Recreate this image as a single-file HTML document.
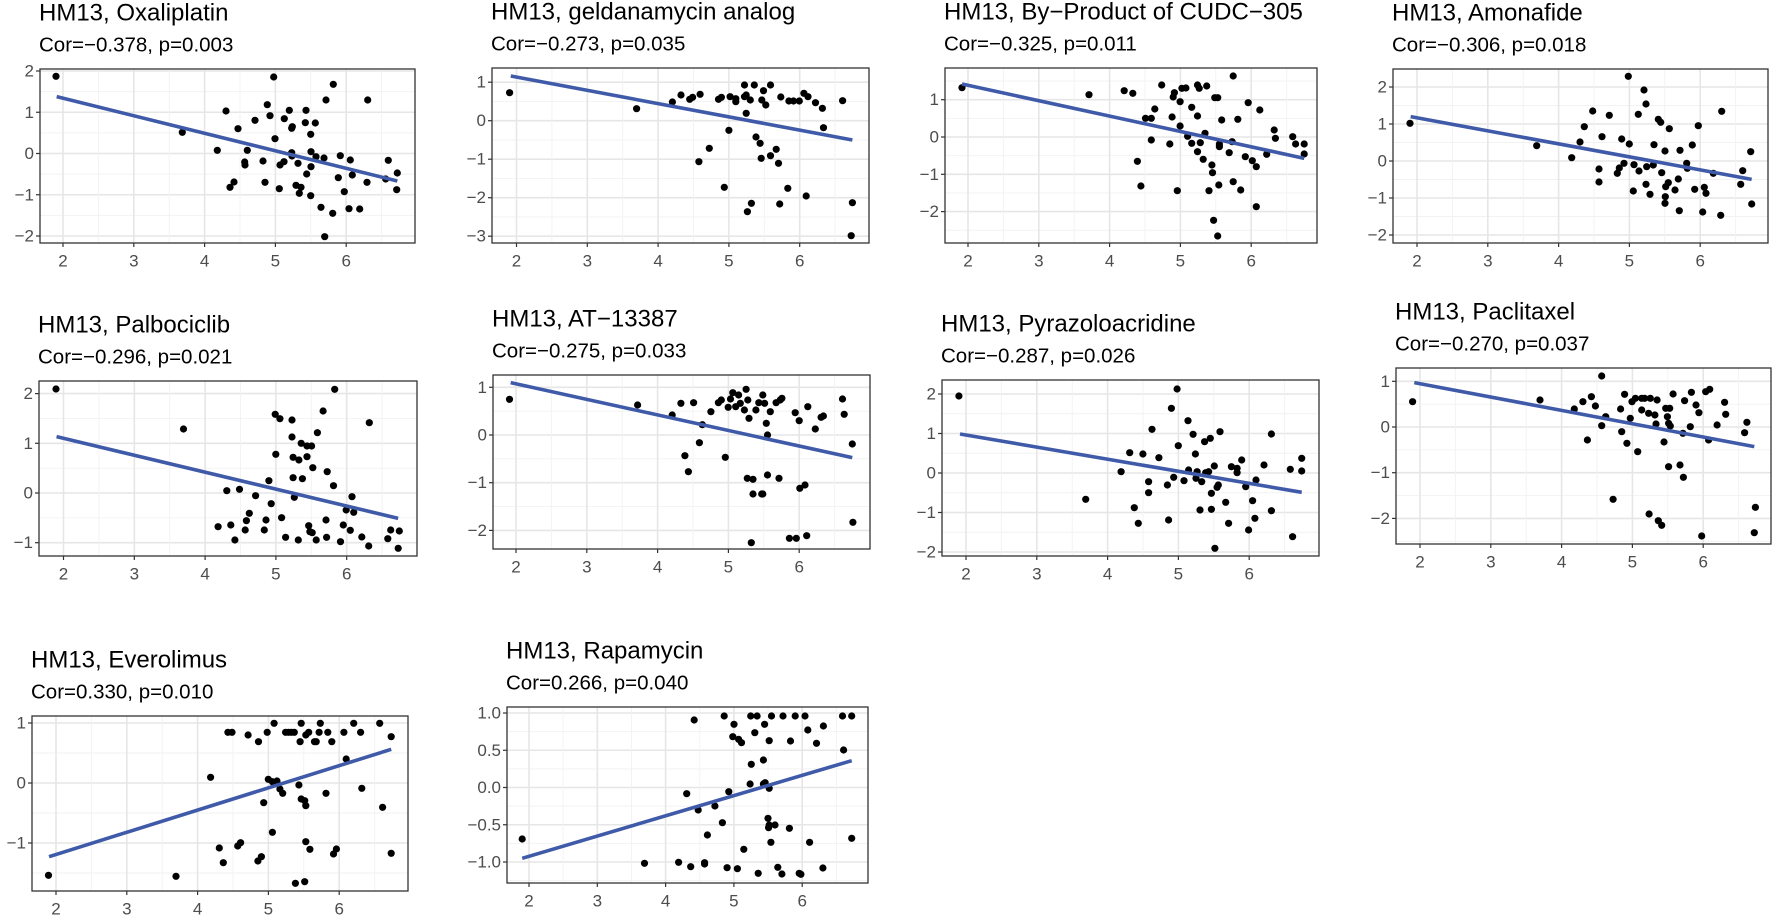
<!DOCTYPE html>
<html><head><meta charset="utf-8"><style>
html,body{margin:0;padding:0;background:#fff;}
svg{display:block;font-family:"Liberation Sans",Arial,sans-serif;}
</style></head><body>
<svg id="s" width="1772" height="917" xmlns="http://www.w3.org/2000/svg"></svg>
<script>
const P=[
{t:"HM13, Oxaliplatin",st:"Cor=\u22120.378, p=0.003",b:[40,69,415,243],x2:63,sx:70.8,y0:153.5,sy:41.25,yt:[2,1,0,-1,-2],z:[0,0,3,3],
 l:[170,290,1192,543],
 p:[[168,229],[547,397],[652,451],[678,333],[690,562],[702,546],[714,386],[734,486],[735,495],[742,451],[765,361],[789,483],[795,547],[802,314],[810,347],[821,231],[825,416],[838,566],[840,495],[852,485],[853,356],[868,331],[875,385],[877,380],[875,458],[876,468],[888,556],[894,490],[898,580],[903,562],[918,331],[916,368],[920,522],[932,403],[933,455],[933,500],[932,587],[946,369],[948,470],[963,622],[972,474],[978,300],[974,710],[998,640],[1000,253],[1015,533],[1021,467],[1033,575],[1047,626],[1051,480],[1057,525],[1079,627],[1101,547],[1103,300],[1157,537],[1165,481],[1190,569],[1192,519]]},
{t:"HM13, geldanamycin analog",st:"Cor=\u22120.273, p=0.035",b:[492,68,869,243],x2:516.5,sx:70.8,y0:120.7,sy:38.5,yt:[1,0,-1,-2,-3],z:[430,0,1.733,3],
 l:[140,228,732,420],
 p:[[138,278],[358,326],[420,306],[435,285],[450,298],[455,292],[468,283],[500,298],[505,292],[520,290],[530,296],[545,255],[548,285],[555,300],[562,255],[575,300],[578,272],[582,315],[590,255],[608,291],[622,303],[630,303],[640,303],[648,280],[655,290],[668,308],[680,325],[682,383],[715,302],[518,391],[484,445],[466,485],[510,562],[548,340],[565,411],[572,430],[574,475],[590,467],[600,448],[604,490],[620,565],[550,635],[557,610],[606,612],[652,588],[732,608],[730,707],[545,290],[530,305]]},
{t:"HM13, By\u2212Product of CUDC\u2212305",st:"Cor=\u22120.325, p=0.011",b:[945,68,1317,243],x2:968,sx:70.8,y0:137,sy:37.3,yt:[1,0,-1,-2],z:[430,0,1.733,3],
 l:[922,252,1515,475],
 p:[[922,263],[1142,284],[1203,272],[1218,280],[1226,484],[1232,558],[1240,355],[1250,355],[1256,327],[1250,420],[1268,255],[1282,432],[1286,351],[1290,278],[1300,305],[1300,378],[1303,265],[1310,264],[1313,409],[1320,322],[1320,430],[1330,348],[1330,255],[1333,265],[1330,455],[1335,428],[1340,478],[1343,400],[1346,258],[1350,572],[1355,495],[1356,518],[1360,293],[1365,293],[1368,432],[1368,440],[1367,555],[1372,360],[1385,458],[1390,425],[1392,228],[1392,545],[1400,358],[1405,570],[1413,470],[1418,308],[1425,482],[1432,500],[1432,620],[1438,330],[1450,463],[1463,390],[1465,415],[1495,410],[1500,432],[1515,432],[1515,462],[1358,661],[1365,708],[1295,572],[1288,291]]},
{t:"HM13, Amonafide",st:"Cor=\u22120.306, p=0.018",b:[1393,69,1768,243],x2:1417,sx:70.8,y0:161,sy:37,yt:[2,1,0,-1,-2],z:[1300,0,3,3],
 l:[332,350,1355,538],
 p:[[330,370],[710,437],[815,473],[840,426],[853,380],[878,333],[897,507],[897,546],[906,410],[928,346],[952,520],[958,504],[965,417],[972,490],[985,229],[988,432],[1002,494],[1000,573],[1015,343],[1017,513],[1032,270],[1038,312],[1040,500],[1038,553],[1050,583],[1060,495],[1062,434],[1075,358],[1082,367],[1085,518],[1095,453],[1096,590],[1095,610],[1097,560],[1105,548],[1108,386],[1125,570],[1135,537],[1138,632],[1140,451],[1160,490],[1162,505],[1177,435],[1184,568],[1195,377],[1208,636],[1213,562],[1218,580],[1240,520],[1262,646],[1265,334],[1322,553],[1328,512],[1352,455],[1355,612]]},
{t:"HM13, Palbociclib",st:"Cor=\u22120.296, p=0.021",b:[39,381,417,556],x2:63.5,sx:70.8,y0:493,sy:49.7,yt:[2,1,0,-1],z:[0,290,1.733,3],
 l:[98,440,690,685],
 p:[[97,297],[318,417],[378,710],[393,602],[400,705],[407,750],[415,598],[425,720],[427,692],[432,670],[443,617],[458,720],[461,690],[466,572],[470,641],[477,373],[485,386],[478,493],[488,683],[495,742],[506,390],[506,441],[508,502],[508,563],[510,622],[517,750],[518,510],[522,460],[524,566],[532,500],[532,468],[535,707],[537,725],[540,468],[541,728],[542,533],[548,750],[550,428],[560,363],[565,690],[567,545],[566,742],[578,587],[580,298],[590,755],[595,705],[600,660],[607,721],[610,620],[613,667],[627,741],[640,398],[639,768],[672,746],[677,720],[690,775],[692,723]]},
{t:"HM13, AT\u221213387",st:"Cor=\u22120.275, p=0.033",b:[493,375,870,549],x2:516,sx:70.8,y0:435,sy:47.7,yt:[1,0,-1,-2],z:[0,290,1.733,3],
 l:[885,278,1477,503],
 p:[[883,328],[1105,345],[1165,375],[1180,340],[1187,497],[1193,545],[1202,338],[1212,458],[1217,404],[1232,365],[1245,338],[1250,330],[1257,502],[1262,352],[1266,327],[1270,308],[1275,350],[1280,315],[1283,340],[1290,360],[1293,298],[1296,330],[1298,385],[1295,565],[1305,612],[1310,360],[1315,338],[1320,612],[1322,315],[1325,340],[1328,400],[1330,435],[1330,555],[1335,365],[1345,338],[1350,565],[1352,330],[1355,325],[1378,368],[1385,392],[1386,595],[1395,585],[1400,350],[1413,417],[1423,382],[1427,378],[1460,327],[1463,373],[1477,462],[1478,697],[1302,758],[1322,612],[1368,745],[1380,745],[1398,737],[1305,568]]},
{t:"HM13, Pyrazoloacridine",st:"Cor=\u22120.287, p=0.026",b:[942,380,1319,556],x2:966,sx:70.8,y0:473,sy:39.5,yt:[2,1,0,-1,-2],z:[880,290,1.75,3],
 l:[140,432,738,607],
 p:[[138,318],[360,628],[422,545],[437,488],[445,653],[452,700],[460,492],[470,575],[470,608],[476,418],[488,503],[503,585],[505,690],[510,355],[514,562],[520,297],[522,467],[532,572],[539,392],[540,540],[548,433],[552,492],[553,565],[555,545],[560,660],[563,575],[568,455],[570,548],[575,545],[578,445],[580,610],[580,658],[585,528],[586,775],[590,592],[592,585],[595,425],[605,637],[610,700],[615,530],[625,535],[625,548],[633,510],[640,590],[645,720],[652,632],[656,685],[658,570],[672,525],[685,432],[685,662],[718,538],[722,740],[738,505],[738,543]]},
{t:"HM13, Paclitaxel",st:"Cor=\u22120.270, p=0.037",b:[1396,368,1771,544],x2:1420,sx:70.8,y0:427,sy:45.7,yt:[1,0,-1,-2],z:[880,290,1.75,3],
 l:[935,278,1530,470],
 p:[[932,335],[1155,330],[1215,357],[1230,335],[1238,450],[1245,320],[1252,348],[1263,258],[1263,407],[1270,380],[1283,628],[1296,357],[1298,425],[1303,313],[1307,460],[1313,385],[1316,335],[1322,325],[1326,485],[1333,325],[1333,360],[1338,325],[1345,370],[1346,672],[1348,325],[1356,375],[1358,402],[1360,330],[1362,692],[1368,706],[1372,456],[1375,355],[1378,380],[1380,400],[1382,355],[1380,530],[1383,408],[1388,312],[1400,525],[1405,430],[1406,562],[1408,332],[1418,410],[1420,307],[1428,345],[1433,368],[1438,738],[1445,305],[1450,450],[1452,298],[1465,405],[1478,337],[1480,373],[1513,428],[1517,397],[1530,728],[1532,652]]},
{t:"HM13, Everolimus",st:"Cor=0.330, p=0.010",b:[32,716,408,891],x2:56,sx:70.8,y0:783,sy:60,yt:[1,0,-1],z:[0,580,1.733,3],
 l:[85,830,678,508],
 p:[[84,886],[305,889],[365,592],[380,804],[387,848],[395,457],[402,457],[412,798],[417,788],[430,465],[447,843],[448,485],[453,830],[457,668],[463,457],[465,598],[475,430],[480,603],[485,627],[490,640],[495,457],[500,457],[505,457],[510,457],[512,910],[518,615],[520,485],[522,430],[522,657],[528,662],[530,677],[528,905],[530,785],[530,465],[535,457],[537,808],[545,485],[548,485],[553,457],[555,430],[565,640],[568,457],[575,485],[578,822],[583,807],[596,457],[600,537],[613,430],[625,457],[627,625],[658,430],[663,682],[678,820],[678,470],[472,605],[472,757]]},
{t:"HM13, Rapamycin",st:"Cor=0.266, p=0.040",b:[507,707,868,883],x2:529,sx:68.3,y0:787.5,sy:74.5,yt:[1,0.5,0,-0.5,-1],dec:1,z:[0,580,1.733,3],
 l:[905,835,1476,542],
 p:[[905,777],[1117,850],[1176,847],[1190,641],[1197,860],[1203,420],[1210,690],[1221,852],[1221,848],[1226,765],[1239,678],[1252,728],[1255,408],[1260,863],[1263,635],[1270,470],[1272,433],[1278,866],[1280,478],[1285,488],[1289,808],[1300,612],[1301,408],[1302,553],[1308,458],[1312,408],[1314,880],[1323,540],[1325,433],[1326,608],[1331,715],[1332,743],[1333,625],[1336,787],[1333,482],[1333,735],[1337,408],[1343,735],[1348,862],[1355,882],[1357,408],[1368,745],[1370,483],[1378,408],[1385,880],[1388,883],[1395,408],[1400,450],[1403,787],[1415,490],[1426,864],[1427,438],[1462,510],[1460,408],[1476,408],[1476,775],[1323,612]]}
];
let h="";
const fmt=(v,d)=>{let s=d?v.toFixed(1):String(v);return s.replace("-","\u2212");};
for(const q of P){
 const [x0,y0,x1,y1]=q.b;
 h+=`<rect x="${x0}" y="${y0}" width="${x1-x0}" height="${y1-y0}" fill="#fff"/>`;
 const step=q.yt[0]-q.yt[1];
 const yp=v=>q.y0-v*q.sy;
 for(let v=q.yt[q.yt.length-1]-step*2; v<=q.yt[0]+step*2; v+=step/2){
  const y=yp(v); if(y<=y0+1||y>=y1-1) continue;
  const major=Math.abs((v-q.yt[0])/step-Math.round((v-q.yt[0])/step))<1e-6;
  h+=`<line x1="${x0}" x2="${x1}" y1="${y}" y2="${y}" stroke="${major?'#e6e6e6':'#f2f2f2'}" stroke-width="${major?1.6:0.9}"/>`;
 }
 const xp=v=>q.x2+(v-2)*q.sx;
 for(let v=1.5; v<=7.5; v+=0.5){
  const x=xp(v); if(x<=x0+1||x>=x1-1) continue;
  const major=Number.isInteger(v);
  h+=`<line y1="${y0}" y2="${y1}" x1="${x}" x2="${x}" stroke="${major?'#e6e6e6':'#f2f2f2'}" stroke-width="${major?1.6:0.9}"/>`;
 }
 for(const v of q.yt){const y=yp(v);
  h+=`<line x1="${x0-4}" x2="${x0}" y1="${y}" y2="${y}" stroke="#333" stroke-width="1.2"/>`;
  h+=`<text x="${x0-6}" y="${y}" font-size="17" fill="#4d4d4d" text-anchor="end" dominant-baseline="central">${fmt(v,q.dec)}</text>`;}
 for(let v=2; v<=6; v++){const x=xp(v);
  h+=`<line x1="${x}" x2="${x}" y1="${y1}" y2="${y1+4}" stroke="#333" stroke-width="1.2"/>`;
  h+=`<text x="${x}" y="${y1+18}" font-size="17" fill="#4d4d4d" text-anchor="middle" dominant-baseline="central">${v}</text>`;}
 const [ox,oy,zx,zy]=q.z;
 const T=(a,b)=>[ox+a/zx,oy+b/zy];
 for(const pt of q.p){const [x,y]=T(pt[0],pt[1]); h+=`<circle cx="${x.toFixed(1)}" cy="${y.toFixed(1)}" r="3.6" fill="#000"/>`;}
 const [la,lb]=T(q.l[0],q.l[1]),[lc,ld]=T(q.l[2],q.l[3]);
 h+=`<line x1="${la}" y1="${lb}" x2="${lc}" y2="${ld}" stroke="#3F5AA8" stroke-width="3.6"/>`;
 h+=`<rect x="${x0}" y="${y0}" width="${x1-x0}" height="${y1-y0}" fill="none" stroke="#333" stroke-width="1.3"/>`;
 h+=`<text x="${x0-1}" y="${y0-56}" font-size="24" fill="#000" dominant-baseline="central">${q.t}</text>`;
 h+=`<text x="${x0-1}" y="${y0-24}" font-size="20.5" fill="#000" dominant-baseline="central">${q.st}</text>`;
}
document.getElementById("s").innerHTML=h;
</script>
</body></html>
